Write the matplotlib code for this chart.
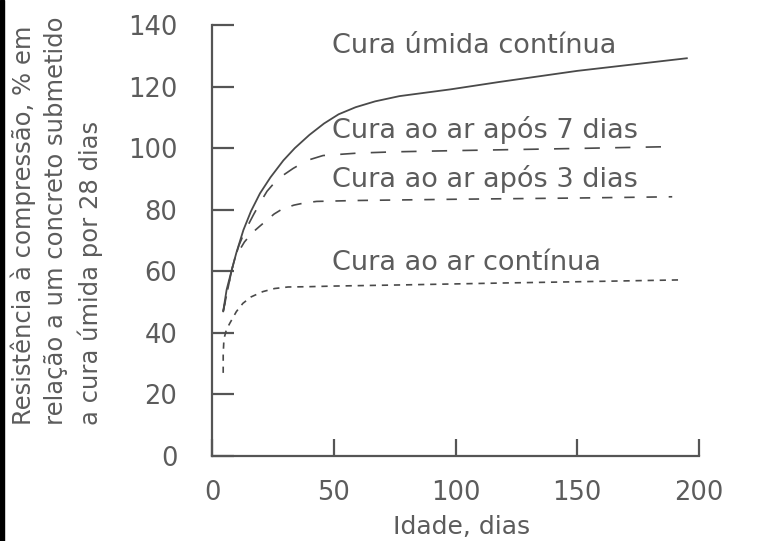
import matplotlib.pyplot as plt
from matplotlib.patches import Rectangle

# valores (idade em dias, resistência em %)
dias_umida = [4.6, 6, 8.1, 10, 12.9, 16, 19.7, 24, 29.3, 34, 40, 46, 52, 59, 67, 77,
              98, 118, 150, 195]
res_umida = [47, 54, 60.4, 66, 73.4, 79.5, 85.3, 90.5, 96, 100, 104.3, 108, 111, 113.3,
             115.2, 116.9, 119.1, 121.5, 125.1, 129.2]

dias_ar7 = [4.6, 8.1, 9.5, 11.1, 13.5, 17, 20, 22.6, 27, 33.3, 39, 45.6, 60, 75, 100,
            150, 189]
res_ar7 = [47, 60.4, 64.5, 68.5, 73, 78.3, 82.6, 86, 90, 93.4, 96, 97.6, 98.4, 98.8,
           99.2, 99.9, 100.5]

dias_ar3 = [4.6, 8.1, 9.5, 13.3, 16.5, 19.7, 25.5, 29, 33.7, 38, 43, 60, 100, 150, 189]
res_ar3 = [47, 60.4, 64.5, 69.5, 72.5, 74.7, 78.6, 80.3, 81.5, 82.2, 82.7, 83, 83.4,
           83.8, 84.2]

dias_ar = [4.6, 4.6, 4.9, 5.9, 7.3, 10, 12.7, 16.1, 20.9, 25.7, 31.2, 40, 50, 80, 120,
           150, 192]
res_ar = [27, 33, 38, 41, 43.1, 46.9, 49.6, 51.7, 53.4, 54.4, 54.9, 55, 55.2, 55.6,
          56.2, 56.6, 57.2]

rotulos = ["Cura úmida contínua", "Cura ao ar após 7 dias",
           "Cura ao ar após 3 dias", "Cura ao ar contínua"]
rotulo_x = [49.3, 49.3, 49.3, 49.3]
rotulo_y = [131, 103.3, 87.4, 60.4]

xticks = [0, 50, 100, 150, 200]
yticks = [0, 20, 40, 60, 80, 100, 120, 140]

cor_txt = "#5c5c5c"
cor_lin = "#4a4a4a"

plt.rcParams['font.family'] = ['DejaVu Sans']
plt.rcParams['lines.scale_dashes'] = False

fig = plt.figure(figsize=(7.63, 5.41), dpi=100)
ax = fig.add_axes([212/763, 1 - 456/541, 487/763, 431/541])

ax.plot(dias_umida, res_umida, color=cor_lin, lw=1.3, solid_joinstyle='round')
ax.plot(dias_ar7, res_ar7, color=cor_lin, lw=1.2, dashes=(11, 11))
ax.plot(dias_ar3, res_ar3, color=cor_lin, lw=1.2, dashes=(7.5, 8.5))
ax.plot(dias_ar, res_ar, color=cor_lin, lw=1.2, dashes=(4.5, 4.2))

for t, x, y in zip(rotulos, rotulo_x, rotulo_y):
    ax.text(x, y, t, fontsize=19.5, color=cor_txt, va='baseline', ha='left')

ax.set_xlim(0, 200)
ax.set_ylim(0, 140)
ax.set_xticks(xticks)
ax.set_yticks(yticks)

for s in ['top', 'right']:
    ax.spines[s].set_visible(False)
for s in ['left', 'bottom']:
    ax.spines[s].set_color("#555555")
    ax.spines[s].set_linewidth(1.6)

ax.tick_params(axis='y', direction='in', length=15.5, width=1.6, color="#555555",
               labelsize=18.5, labelcolor=cor_txt, pad=25)
ax.tick_params(axis='x', direction='in', length=12, width=1.6, color="#555555",
               labelsize=18.5, labelcolor=cor_txt, pad=17)

ax.set_xlabel("Idade, dias", fontsize=18, color=cor_txt, va='baseline')
ax.xaxis.set_label_coords(0.513, -0.181)

fig.text(10/763, 1 - 425/541,
         "Resistência à compressão, % em\nrelação a um concreto submetido\na cura úmida por 28 dias",
         rotation=90, ha='left', va='bottom', multialignment='left',
         fontsize=17.5, color=cor_txt, linespacing=1.45)

# faixa preta na borda esquerda
fig.patches.append(Rectangle((0, 0), 4/763, 1, transform=fig.transFigure,
                             color='black', zorder=10))

fig.savefig("out.png", dpi=100)
